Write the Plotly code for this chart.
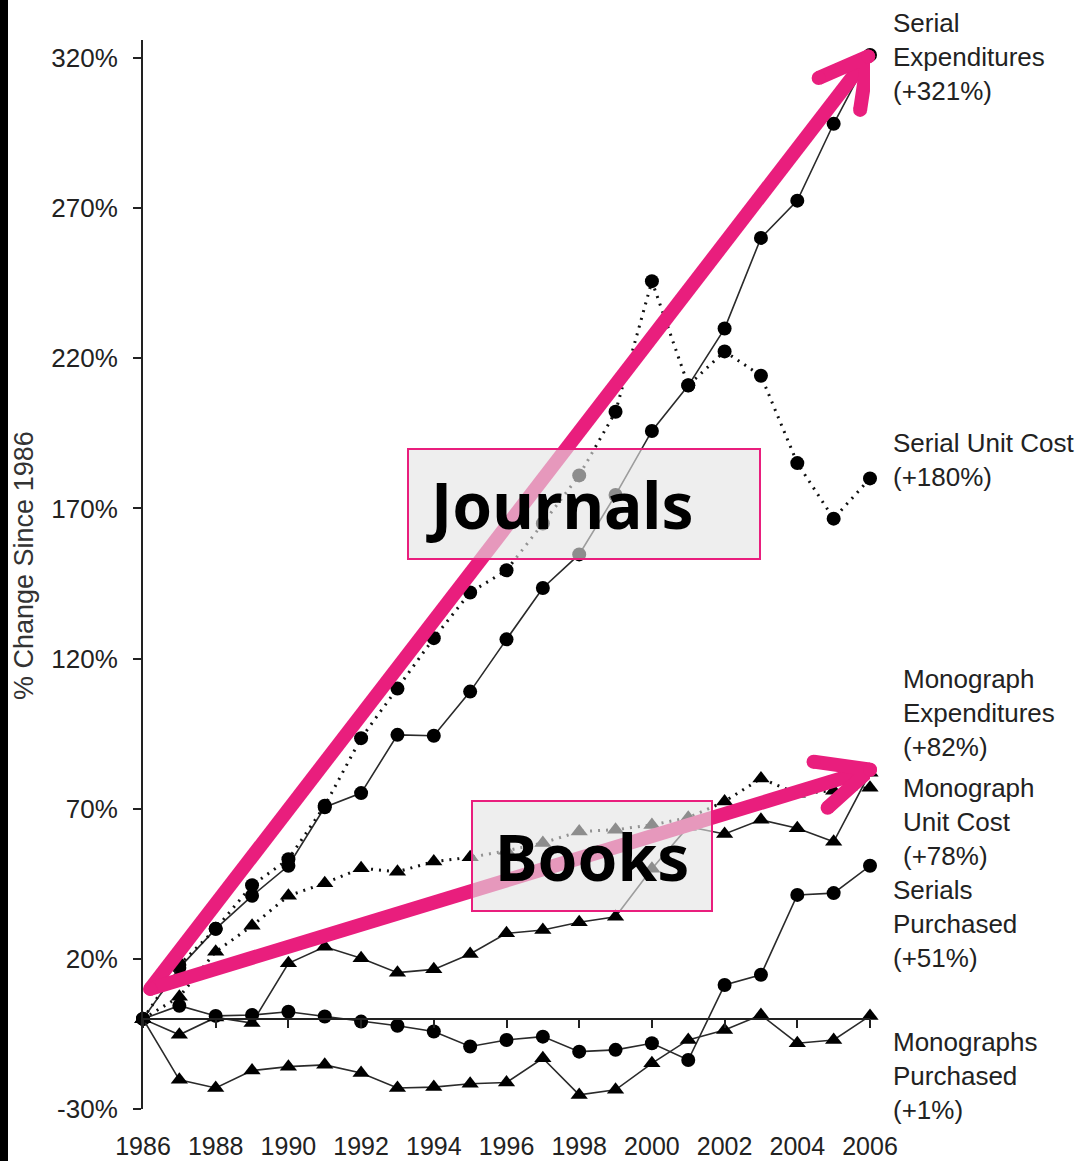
import math
import plotly.graph_objects as go

# ---------------- data ----------------
years = list(range(1986, 2007))

serial_expenditures = [0, 17, 30, 41, 51, 70.5, 75.2, 94.6, 94.3, 109, 126.4,
                       143.5, 154.7, 174.5, 195.8, 210.9, 229.9, 260.1, 272.5, 298.1, 321]
serial_unit_cost = [0, 18, 30, 44.5, 53.2, 71, 93.5, 110, 126.8, 142, 149.4,
                    165, 181, 202.2, 245.7, 211, 222.3, 214.2, 185.1, 166.6, 180]
monograph_expenditures = [0, -5.3, 0.5, -1.4, 18.5, 24, 20.2, 15.4, 16.5, 21.6, 28.5,
                          29.6, 32.2, 34, 50, 64, 61.6, 66.3, 63.5, 59, 82]
monograph_unit_cost = [0, 7.4, 22.4, 31, 41, 45.2, 50.2, 49, 52.4, 53.8, 56,
                       58.6, 62.4, 63, 64.6, 67, 72.4, 80.1, 75, 76, 77]
serials_purchased = [0, 4.4, 1, 1.3, 2.4, 0.8, -0.9, -2.3, -4.2, -9.2, -7,
                     -5.9, -10.9, -10.3, -8.1, -13.7, 11.3, 14.7, 41.3, 41.9, 51]
monographs_purchased = [0, -20.3, -23, -17.2, -15.9, -15.3, -18, -23, -22.7, -21.6, -21.2,
                        -13.1, -25.3, -23.6, -14.8, -7, -3.7, 1.3, -8.1, -7, 1]

y_tick_values = [-30, 20, 70, 120, 170, 220, 270, 320]
y_tick_labels = [f"{v}%" for v in y_tick_values]
x_tick_values = years[::2]
x_tick_labels = [str(y) for y in x_tick_values]

series_labels = [
    "Serial<br>Expenditures<br>(+321%)",
    "Serial Unit Cost<br>(+180%)",
    "Monograph<br>Expenditures<br>(+82%)",
    "Monograph<br>Unit Cost<br>(+78%)",
    "Serials<br>Purchased<br>(+51%)",
    "Monographs<br>Purchased<br>(+1%)",
]
callout_texts = ["Journals", "Books"]

# ---------------- layout geometry ----------------
W, H = 1086, 1161
L, R, T, B = 143, 216, 40, 52
PW, PH = W - L - R, H - T - B
X_RANGE = [1986, 2006]
Y_RANGE = [-30, 326]
XPX = PW / (X_RANGE[1] - X_RANGE[0])
YPX = PH / (Y_RANGE[1] - Y_RANGE[0])


def px_x(px):
    return (px - L) / PW


def px_y(py):
    return (H - B - py) / PH


FONT = "Liberation Sans, Arial, sans-serif"
TXT = "#222222"
PINK = "#E91E7D"

fig = go.Figure()

series = [
    (serial_expenditures, "circle", "solid"),
    (serial_unit_cost, "circle", "dot"),
    (monograph_expenditures, "triangle-up", "solid"),
    (monograph_unit_cost, "triangle-up", "dot"),
    (serials_purchased, "circle", "solid"),
    (monographs_purchased, "triangle-up", "solid"),
]
for vals, sym, style in series:
    if style == "solid":
        line = dict(color="#2a2a2a", width=1.6)
    else:
        line = dict(color="#111111", width=3, dash="2px,6px")
    fig.add_trace(go.Scatter(
        x=years, y=vals, mode="lines+markers", line=line,
        marker=dict(symbol=sym, size=14 if sym == "circle" else 15, color="#000000"),
        cliponaxis=False, showlegend=False, hoverinfo="x+y"))

# zero-line axis helper trace (invisible)
fig.add_trace(go.Scatter(x=[years[0]], y=[0], xaxis="x2", mode="markers",
                         marker=dict(opacity=0), showlegend=False, hoverinfo="skip"))


# ---------------- pink arrows ----------------
def add_arrow(start, tip, arm_len, ang_deg, width=14):
    dx = (tip[0] - start[0]) * XPX
    dy = (tip[1] - start[1]) * YPX
    n = math.hypot(dx, dy)
    ux, uy = -dx / n, -dy / n
    arms = []
    for s in (1, -1):
        a = math.radians(ang_deg) * s
        vx = ux * math.cos(a) - uy * math.sin(a)
        vy = ux * math.sin(a) + uy * math.cos(a)
        arms.append((tip[0] + vx * arm_len / XPX, tip[1] + vy * arm_len / YPX))
    style = dict(mode="lines+markers", line=dict(color=PINK, width=width),
                 marker=dict(color=PINK, size=width, line=dict(width=0)),
                 cliponaxis=False, showlegend=False, hoverinfo="skip")
    fig.add_trace(go.Scatter(x=[start[0], tip[0]], y=[start[1], tip[1]], **style))
    fig.add_trace(go.Scatter(x=[arms[0][0], tip[0], arms[1][0]],
                             y=[arms[0][1], tip[1], arms[1][1]], **style))


add_arrow((1986.2, 10), (2005.95, 320.5), 54, 29)
add_arrow((1986.2, 10), (2006.0, 83), 57, 25)

# ---------------- callout boxes ----------------
boxes = [  # (x0, x1, y0, y1) in pixels, text centre x
    (408, 760, 449, 559, 560),
    (472, 712, 801, 911, 592),
]
shapes = []
annotations = []
for (bx0, bx1, by0, by1, tx), text in zip(boxes, callout_texts):
    shapes.append(dict(type="rect", xref="paper", yref="paper",
                       x0=px_x(bx0), x1=px_x(bx1), y0=px_y(by1), y1=px_y(by0),
                       fillcolor="rgba(228,228,228,0.62)",
                       line=dict(color=PINK, width=2), layer="above"))
    annotations.append(dict(xref="paper", yref="paper",
                            x=px_x(tx), y=px_y((by0 + by1) / 2),
                            text=text, showarrow=False, xanchor="center", yanchor="middle",
                            font=dict(family="Noto Sans, sans-serif", size=64,
                                      color="#000000", weight="bold")))

# black strip on the left edge
shapes.append(dict(type="rect", xref="paper", yref="paper",
                   x0=px_x(0), x1=px_x(8), y0=px_y(H), y1=px_y(0),
                   fillcolor="#000000", line=dict(width=0), layer="above"))

# right-hand series labels: (left x px, middle-line y px)
label_pos = [(891, 57), (891, 460), (901, 713), (901, 822), (891, 924), (891, 1076)]
for text, (lx, ly) in zip(series_labels, label_pos):
    annotations.append(dict(xref="paper", yref="paper", x=px_x(lx), y=px_y(ly),
                            text=text, showarrow=False, xanchor="left", yanchor="middle",
                            align="left", font=dict(family=FONT, size=26, color=TXT)))

# y-axis title
annotations.append(dict(xref="paper", yref="paper", x=px_x(24), y=px_y(566),
                        text="% Change Since 1986", textangle=-90, showarrow=False,
                        xanchor="center", yanchor="middle",
                        font=dict(family=FONT, size=27, color="#333333")))

fig.update_layout(
    width=W, height=H, autosize=False,
    margin=dict(l=L, r=R, t=T, b=B, pad=0, autoexpand=False),
    paper_bgcolor="white", plot_bgcolor="white",
    showlegend=False,
    shapes=shapes, annotations=annotations,
    xaxis=dict(range=X_RANGE, showgrid=False, zeroline=False, showline=False,
               ticks="", tickvals=x_tick_values, ticktext=x_tick_labels,
               tickfont=dict(family=FONT, size=25, color=TXT), ticklabelstandoff=20),
    xaxis2=dict(range=X_RANGE, overlaying="x", anchor="free",
                position=(0 - Y_RANGE[0]) / (Y_RANGE[1] - Y_RANGE[0]),
                side="bottom", showgrid=False, zeroline=False, showline=True,
                linecolor="#222222", linewidth=2, ticks="outside", ticklen=8,
                tickwidth=2, tickcolor="#222222", tickvals=x_tick_values,
                showticklabels=False),
    yaxis=dict(range=Y_RANGE, showgrid=False, zeroline=False, showline=True,
               linecolor="#222222", linewidth=2, ticks="outside", ticklen=8,
               tickwidth=2, tickcolor="#222222", tickvals=y_tick_values,
               ticktext=y_tick_labels, ticklabelstandoff=10,
               tickfont=dict(family=FONT, size=26, color=TXT)),
)

fig.write_html(
    "out.html",
    config={"responsive": False, "displayModeBar": False},
    default_width=f"{W}px", default_height=f"{H}px",
    post_script="document.body.style.margin='0px';document.body.style.overflow='hidden';",
)
